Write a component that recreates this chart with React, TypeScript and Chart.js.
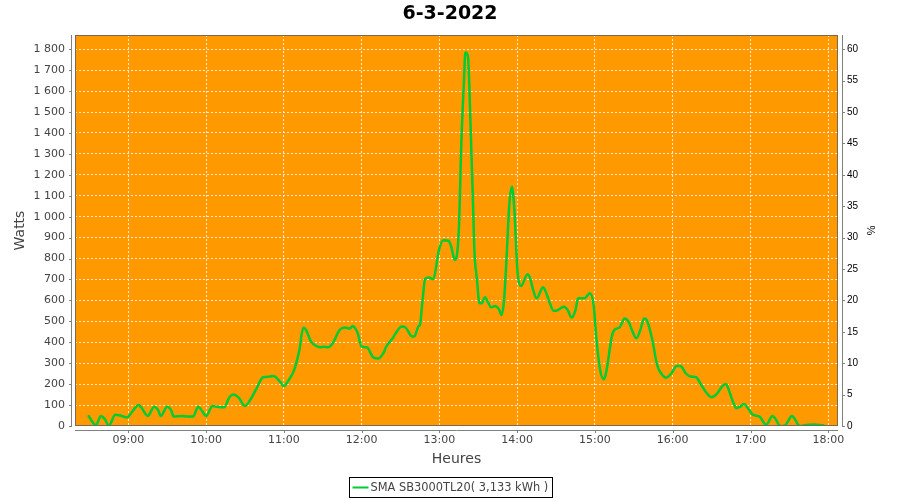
import React, { useEffect, useRef } from 'react';
import { Chart, registerables } from 'chart.js';

Chart.register(...registerables);

// ---------- data ----------
const TITLE = '6-3-2022';
const SERIES_LABEL = 'SMA SB3000TL20( 3,133 kWh )';
const X_TITLE = 'Heures';
const Y_TITLE = 'Watts';
const Y2_TITLE = '%';

const TIMES = [
  '08:29', '08:35', '08:39', '08:42', '08:45', '08:50', '08:55', '08:59', '09:03', '09:08',
  '09:10', '09:15', '09:20', '09:23', '09:25', '09:30', '09:33', '09:35', '09:41', '09:46',
  '09:50', '09:54', '09:56', '10:00', '10:05', '10:08', '10:14', '10:18', '10:21', '10:25',
  '10:30', '10:34', '10:39', '10:44', '10:49', '10:52', '10:57', '11:00', '11:03', '11:08',
  '11:12', '11:15', '11:17', '11:21', '11:26', '11:28', '11:31', '11:34', '11:38', '11:43',
  '11:47', '11:51', '11:53', '11:57', '12:00', '12:04', '12:09', '12:13', '12:17', '12:19',
  '12:24', '12:26', '12:31', '12:34', '12:39', '12:41', '12:44', '12:45', '12:47', '12:49',
  '12:52', '12:55', '13:00', '13:03', '13:07', '13:09', '13:12', '13:15', '13:17', '13:19',
  '13:20', '13:22', '13:24', '13:26', '13:27', '13:29', '13:31', '13:33', '13:35', '13:40',
  '13:43', '13:46', '13:48', '13:50', '13:52', '13:54', '13:56', '13:58', '14:00', '14:01',
  '14:03', '14:08', '14:10', '14:12', '14:15', '14:20', '14:23', '14:25', '14:28', '14:30',
  '14:36', '14:39', '14:42', '14:45', '14:47', '14:52', '14:56', '14:59', '15:01', '15:04',
  '15:07', '15:09', '15:13', '15:15', '15:19', '15:23', '15:26', '15:29', '15:32', '15:35',
  '15:38', '15:40', '15:44', '15:48', '15:51', '15:55', '15:59', '16:03', '16:06', '16:10',
  '16:14', '16:18', '16:22', '16:26', '16:30', '16:34', '16:38', '16:41', '16:44', '16:47',
  '16:49', '16:52', '16:55', '16:58', '17:02', '17:07', '17:12', '17:17', '17:19', '17:23',
  '17:27', '17:32', '17:34', '17:38', '17:43', '17:48', '17:53', '17:57',
];

const WATTS = [
  51, 5, 48, 32, 1, 54, 48, 41, 68, 100,
  89, 48, 92, 76, 48, 92, 76, 45, 48, 45,
  45, 92, 80, 48, 96, 92, 89, 137, 150, 137,
  96, 124, 180, 233, 236, 239, 212, 191, 212, 268,
  363, 469, 460, 403, 379, 376, 379, 376, 398, 459,
  471, 466, 478, 443, 379, 376, 328, 323, 350, 379,
  419, 440, 475, 470, 427, 430, 478, 483, 600, 703,
  710, 701, 849, 888, 885, 860, 793, 936, 1366, 1653,
  1784, 1768, 1446, 1050, 841, 698, 586, 589, 615, 567,
  573, 557, 530, 610, 825, 1064, 1143, 1016, 761, 698,
  669, 725, 706, 658, 610, 663, 626, 590, 551, 551,
  570, 554, 518, 554, 610, 610, 634, 578, 427, 268,
  223, 268, 427, 459, 471, 514, 498, 451, 419, 459,
  514, 506, 419, 291, 252, 231, 252, 287, 287, 252,
  236, 233, 196, 159, 137, 153, 188, 201, 159, 108,
  85, 92, 105, 85, 53, 45, 5, 48, 37, 0,
  5, 48, 35, 0, 5, 7, 5, 3,
];

const HOUR_TICKS = ['09:00', '10:00', '11:00', '12:00', '13:00', '14:00', '15:00', '16:00', '17:00', '18:00'];
const X_RANGE = ['08:18.9', '18:07.5'];
const Y_MAX = 1868;
const Y2_MAX = 62.27;

// ---------- helpers ----------
const toMin = (t: string) => {
  const [h, m] = t.split(':').map(Number);
  return h * 60 + m;
};
const fmtTime = (v: number) => {
  const h = Math.floor(v / 60);
  const m = Math.round(v - h * 60);
  return `${String(h).padStart(2, '0')}:${String(m).padStart(2, '0')}`;
};
const fmtThousands = (v: number) => {
  const s = String(Math.round(v));
  return s.replace(/\B(?=(\d{3})+(?!\d))/g, ' ');
};

const AXIS_GREY = '#808080';
const TEXT_GREY = '#444444';
const LINE_GREEN = '#00cc33';

const decorPlugin = {
  id: 'decor',
  beforeDraw(chart: any) {
    const { ctx, chartArea: a } = chart;
    ctx.save();
    ctx.fillStyle = '#ff9900';
    ctx.fillRect(a.left, a.top, a.right - a.left, a.bottom - a.top);
    ctx.restore();
  },
  afterDraw(chart: any) {
    const { ctx, chartArea: a } = chart;
    const sx = chart.scales.x;
    const sy = chart.scales.y;
    const sy2 = chart.scales.y2;
    ctx.save();
    // plot outline
    ctx.strokeStyle = '#7a6a55';
    ctx.lineWidth = 1;
    ctx.strokeRect(a.left + 0.5, a.top + 0.5, a.right - a.left - 1, a.bottom - a.top - 1);

    ctx.strokeStyle = AXIS_GREY;
    ctx.beginPath();
    // left axis line + ticks
    const lx = Math.round(a.left) - 4 + 0.5;
    ctx.moveTo(lx, a.top);
    ctx.lineTo(lx, a.bottom + 1);
    sy.ticks.forEach((t: any) => {
      const y = Math.round(sy.getPixelForValue(t.value)) + 0.5;
      ctx.moveTo(lx, y);
      ctx.lineTo(lx - 2.5, y);
    });
    // bottom axis line + ticks
    const by = Math.round(a.bottom) + 4 + 0.5;
    ctx.moveTo(a.left, by);
    ctx.lineTo(a.right, by);
    sx.ticks.forEach((t: any) => {
      const x = Math.round(sx.getPixelForValue(t.value)) + 0.5;
      ctx.moveTo(x, by);
      ctx.lineTo(x, by + 2.5);
    });
    // right axis line + ticks
    const rx = Math.round(a.right) + 4 + 0.5;
    ctx.moveTo(rx, a.top);
    ctx.lineTo(rx, a.bottom + 1);
    sy2.ticks.forEach((t: any) => {
      const y = Math.round(sy2.getPixelForValue(t.value)) + 0.5;
      ctx.moveTo(rx, y);
      ctx.lineTo(rx + 2.5, y);
    });
    ctx.stroke();

    // legend box
    const label = chart.data.datasets[0].label;
    ctx.font = '11.4px "DejaVu Sans"';
    const tw = ctx.measureText(label).width;
    const boxW = Math.round(21 + tw + 4);
    const cx = chart.width / 2;
    const bx = Math.round(cx - boxW / 2) + 0.5;
    const bTop = 477.5;
    const bH = 20;
    ctx.strokeStyle = '#000000';
    ctx.lineWidth = 1;
    ctx.strokeRect(bx, bTop, boxW, bH);
    const my = bTop + bH / 2;
    ctx.strokeStyle = LINE_GREEN;
    ctx.lineWidth = 2;
    ctx.beginPath();
    ctx.moveTo(bx + 3, my);
    ctx.lineTo(bx + 19, my);
    ctx.stroke();
    ctx.fillStyle = TEXT_GREY;
    ctx.textBaseline = 'middle';
    ctx.textAlign = 'left';
    ctx.fillText(label, bx + 21, my + 0.5);
    ctx.restore();
  },
};

export default function App() {
  const ref = useRef<HTMLCanvasElement>(null);

  useEffect(() => {
    if (!ref.current) return;
    const points = TIMES.map((t, i) => ({ x: toMin(t), y: WATTS[i] }));
    const chart = new Chart(ref.current, {
      type: 'line',
      data: {
        datasets: [
          {
            label: SERIES_LABEL,
            data: points,
            borderColor: LINE_GREEN,
            backgroundColor: LINE_GREEN,
            borderWidth: 2.5,
            pointRadius: 0,
            cubicInterpolationMode: 'monotone',
            fill: false,
          },
        ],
      },
      options: {
        animation: false,
        responsive: true,
        maintainAspectRatio: false,
        layout: { padding: { left: 0, right: 0, top: 0, bottom: 26 } },
        plugins: {
          legend: { display: false },
          tooltip: { enabled: false },
          title: {
            display: true,
            text: TITLE,
            color: '#000000',
            font: { family: '"DejaVu Sans"', size: 19, weight: 'bold', lineHeight: 1.2 },
            padding: { top: 3, bottom: 9.2 },
          },
        },
        scales: {
          x: {
            type: 'linear',
            position: 'bottom',
            min: toMin(X_RANGE[0]),
            max: toMin(X_RANGE[1]),
            afterBuildTicks: (axis: any) => {
              axis.ticks = HOUR_TICKS.map((t) => ({ value: toMin(t) }));
            },
            afterFit: (scale: any) => {
              scale.height = 48;
            },
            ticks: {
              callback: (v: any) => fmtTime(Number(v)),
              color: TEXT_GREY,
              font: { family: '"DejaVu Sans"', size: 11 },
              padding: 8,
              maxRotation: 0,
              autoSkip: false,
            },
            grid: {
              color: 'rgba(255,255,255,0.8)',
              lineWidth: 1,
              drawTicks: false,
            },
            border: { display: false, dash: [2, 2] },
            title: {
              display: true,
              text: X_TITLE,
              color: TEXT_GREY,
              font: { family: '"DejaVu Sans"', size: 14, lineHeight: 1.2 },
              padding: { top: 0, bottom: 6 },
            },
          },
          y: {
            type: 'linear',
            position: 'left',
            min: 0,
            max: Y_MAX,
            afterFit: (scale: any) => {
              scale.width = 75;
            },
            ticks: {
              stepSize: 100,
              includeBounds: false,
              callback: (v: any) => fmtThousands(Number(v)),
              color: TEXT_GREY,
              font: { family: '"DejaVu Sans"', size: 11 },
              padding: 10,
            },
            grid: {
              color: 'rgba(255,255,255,0.8)',
              lineWidth: 1,
              drawTicks: false,
            },
            border: { display: false, dash: [2, 2] },
            title: {
              display: true,
              text: Y_TITLE,
              color: TEXT_GREY,
              font: { family: '"DejaVu Sans"', size: 14, lineHeight: 1.2 },
              padding: { top: 12, bottom: 0 },
            },
          },
          y2: {
            type: 'linear',
            position: 'right',
            min: 0,
            max: Y2_MAX,
            afterFit: (scale: any) => {
              scale.width = 62;
            },
            ticks: {
              stepSize: 5,
              includeBounds: false,
              color: '#000000',
              font: { family: '"Liberation Sans"', size: 10 },
              padding: 9,
            },
            grid: { display: false, drawTicks: false },
            border: { display: false },
            title: {
              display: true,
              text: Y2_TITLE,
              color: '#000000',
              font: { family: '"Liberation Sans"', size: 11, lineHeight: 1.2 },
              padding: { top: 23, bottom: 0 },
            },
          },
        },
      },
      plugins: [decorPlugin],
    } as any);
    return () => chart.destroy();
  }, []);

  return (
    <div style={{ position: 'absolute', left: 0, top: 0, width: 900, height: 500 }}>
      <canvas ref={ref} />
    </div>
  );
}
